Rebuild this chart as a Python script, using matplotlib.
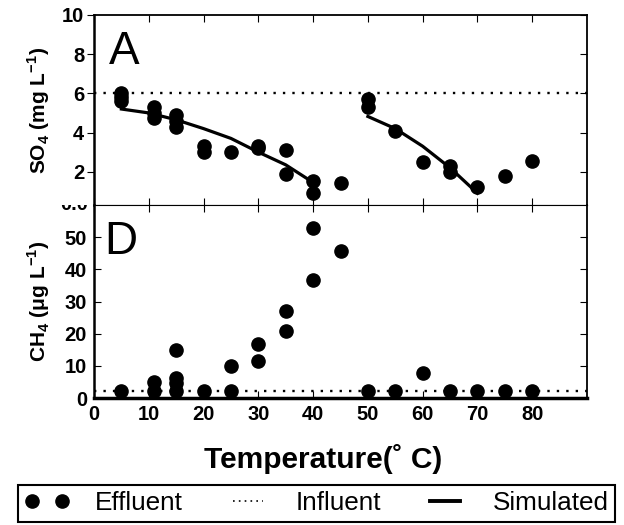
import numpy as np
import matplotlib
matplotlib.use("Agg")
import matplotlib.pyplot as plt
from matplotlib.lines import Line2D
from matplotlib.transforms import Bbox, TransformedBbox

plt.rcParams['font.family'] = ['Liberation Sans', 'DejaVu Sans']
plt.rcParams['mathtext.fontset'] = 'custom'
plt.rcParams['mathtext.rm'] = 'Liberation Sans'
plt.rcParams['mathtext.bf'] = 'Liberation Sans:bold'

# SO4 effluent (panel A)
so4_t = [5, 5, 5, 11, 11, 11, 15, 15, 15, 20, 20, 25, 30, 30, 35, 35, 40, 40, 45,
         50, 50, 55, 60, 65, 65, 70, 75, 80]
so4_v = [6.0, 5.8, 5.6, 5.3, 5.0, 4.75, 4.9, 4.6, 4.3, 3.3, 3.0, 3.0, 3.3, 3.2, 3.1, 1.9, 1.5, 0.9, 1.4,
         5.7, 5.3, 4.1, 2.5, 2.3, 2.0, 1.2, 1.8, 2.55]
so4_influent = 6.0
# simulated SO4, two runs
sim1_t = [5, 10, 15, 20, 25, 30, 35, 40]
sim1_v = [5.2, 5.0, 4.65, 4.2, 3.7, 3.0, 2.35, 1.45]
sim2_t = [50, 55, 60, 65, 70]
sim2_v = [4.82, 4.2, 3.3, 2.2, 0.9]

# CH4 effluent (panel D)
ch4_t = [5, 11, 11, 15, 15, 15, 15, 20, 25, 25, 30, 30, 35, 35, 40, 40, 45,
         50, 55, 60, 65, 70, 75, 80]
ch4_v = [2.3, 5.0, 2.3, 14.8, 6.2, 4.7, 2.3, 2.3, 9.8, 2.3, 16.9, 11.6, 26.9, 20.7, 52.8, 36.7, 45.8,
         2.3, 2.3, 7.8, 2.3, 2.3, 2.3, 2.3]
ch4_influent = 2.3

xticks = [0, 10, 20, 30, 40, 50, 60, 70, 80]

fig = plt.figure(figsize=(6.24, 5.25), dpi=100)
ax1 = fig.add_axes([94/624, 1-205/525, 493/624, 190/525])
ax2 = fig.add_axes([94/624, 1-398/525, 493/624, 193/525])

dot = dict(marker='o', ms=9.5, color='black', linestyle='none')
dotted = dict(color='black', lw=1.7, linestyle=(0, (1, 3)))

ax1.axhline(so4_influent, **dotted)
ax1.plot(so4_t, so4_v, **dot)
ax1.plot(sim1_t, sim1_v, color='black', lw=2.3)
ax1.plot(sim2_t, sim2_v, color='black', lw=2.3)
ax1.set_xlim(0, 90)
ax1.set_ylim(0.3, 10)
ax1.set_yticks([2, 4, 6, 8, 10])
ax1.set_xticks(xticks)
ax1.tick_params(axis='x', direction='in', top=True, bottom=True, labelbottom=False, length=5)
ax1.tick_params(axis='y', left=True, right=True, direction='out', length=5, pad=2)
for t in ax1.yaxis.get_major_ticks():
    t.tick2line.set_marker(matplotlib.markers.TICKLEFT)
ax1.text(0.03, 0.74, 'A', transform=ax1.transAxes, fontsize=33, ha='left', va='baseline')
ax1.set_ylabel(r'SO$_\mathbf{4}$ (mg L$^\mathbf{-1}$)', fontsize=15, fontweight='bold')
ax1.yaxis.set_label_coords(-0.085, 0.5)

ax2.axhline(ch4_influent, **dotted)
ax2.plot(ch4_t, ch4_v, **dot)
ax2.set_xlim(0, 90)
ax2.set_ylim(0, 60)
ax2.set_yticks([0, 10, 20, 30, 40, 50])
ax2.set_xticks(xticks)
ax2.tick_params(axis='x', direction='in', top=True, bottom=True, length=5, pad=5)
ax2.tick_params(axis='y', direction='in', left=True, right=True, length=5, pad=5)
ax2.text(0.021, 0.747, 'D', transform=ax2.transAxes, fontsize=33, ha='left', va='baseline')
ax2.set_ylabel(r'CH$_\mathbf{4}$ ($\mathbf{\mu}$g L$^\mathbf{-1}$)', fontsize=15, fontweight='bold')
ax2.yaxis.set_label_coords(-0.085, 0.5)
ax2.set_xlabel('Temperature(˚ C)', fontsize=21.5, fontweight='bold')
ax2.xaxis.set_label_coords(0.465, -0.24)

# half-hidden label at the panel seam
seam = ax2.text(-0.012, 60, '0.0', transform=ax2.get_yaxis_transform(), fontsize=14.5,
                fontweight='bold', ha='right', va='center')
seam.set_clip_box(TransformedBbox(Bbox([[-0.3, 0], [0, 1]]), ax2.transAxes))
seam.set_clip_on(True)

for ax in (ax1, ax2):
    for lab in ax.get_xticklabels() + ax.get_yticklabels():
        lab.set_fontsize(14.5)
        lab.set_fontweight('bold')
    for s in ax.spines.values():
        s.set_linewidth(1.3)
ax1.spines['bottom'].set_linewidth(0.8)
ax2.spines['top'].set_linewidth(0.8)
ax2.spines['bottom'].set_linewidth(2.5)
ax2.spines['left'].set_linewidth(1.8)
ax1.spines['left'].set_linewidth(1.8)

handles = [Line2D([], [], **dot),
           Line2D([], [], color='black', lw=1.2, linestyle=(0, (1, 2.5))),
           Line2D([], [], color='black', lw=2.8)]
labels = ['Effluent', 'Influent', 'Simulated']
leg = fig.legend(handles, labels, loc='lower left', bbox_to_anchor=(18/624, 3/525),
                 borderaxespad=0, ncol=3, fontsize=18.8, numpoints=2,
                 handlelength=1.75, handletextpad=0.95, columnspacing=1.6,
                 borderpad=0.25, fancybox=False, framealpha=1)
leg.get_frame().set_edgecolor('black')
leg.get_frame().set_linewidth(1.5)

fig.savefig('out.png', dpi=100)
